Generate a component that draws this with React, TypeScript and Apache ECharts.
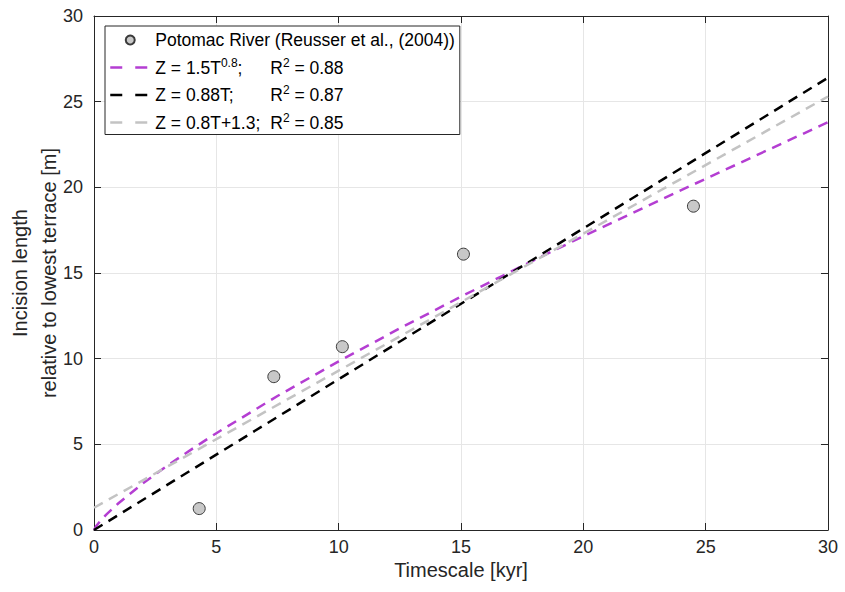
import React, { useEffect, useRef } from "react";
import * as echarts from "echarts";

const FONT = '"Liberation Sans", Arial, Helvetica, sans-serif';

// Observations: Potomac River (Reusser et al., 2004)
const obsName = "Potomac River (Reusser et al., (2004))";
const obsT = [4.3, 7.35, 10.15, 15.1, 24.5];
const obsZ = [1.25, 8.95, 10.7, 16.1, 18.9];

// Fit 1: power law (purple)
const powT = [0, 0.1, 0.25, 0.5, 1, 2, 3, 4, 5, 7.5, 10, 12.5, 15, 17.5, 20, 22.5, 25, 27.5, 30];
const powZ = [0, 0.25, 0.51, 0.9, 1.56, 2.72, 3.76, 4.72, 5.65, 7.82, 9.84, 11.77, 13.62, 15.41, 17.15, 18.83, 20.5, 22.15, 23.8];

// Fit 2: linear through origin (black)
const linT = [0, 30];
const linZ = [0, 26.4];

// Fit 3: linear with offset (gray)
const offT = [0, 30];
const offZ = [1.3, 25.3];

const fitNames = ["fitPow", "fitLin", "fitOff"];
const fitBase = ["Z = 1.5T", "Z = 0.88T;", "Z = 0.8T+1.3;"];
const fitSup = ["0.8", "", ""];
const fitTail = [";", "", ""];
const fitR2 = ["0.88", "0.87", "0.85"];
const fitColors = ["#b43ed2", "#000000", "#c3c3c3"];

const xTicks = { min: 0, max: 30, interval: 5 };
const yTicks = { min: 0, max: 30, interval: 5 };

const AX = "#262626";
const GRIDC = "#e6e6e6";

export default function App() {
  const ref = useRef<HTMLDivElement>(null);
  useEffect(() => {
    if (!ref.current) return;
    const chart = echarts.init(ref.current, undefined, { renderer: "svg" });

    const LEG = 17.5;
    const SUP = 12;
    const canvas = document.createElement("canvas");
    const ctx = canvas.getContext("2d")!;
    const measure = (t: string, size: number) => {
      ctx.font = `${size}px ${FONT}`;
      return ctx.measureText(t).width;
    };
    const colR = 115;

    const usedWidth = (i: number) =>
      measure(fitBase[i], LEG) +
      (fitSup[i] ? measure(fitSup[i], SUP) : 0) +
      (fitTail[i] ? measure(fitTail[i], LEG) : 0);

    const formatter = (name: string) => {
      const i = fitNames.indexOf(name);
      if (i < 0) return `{a|${name}}`;
      let s = `{a|${fitBase[i]}}`;
      if (fitSup[i]) s += `{s|${fitSup[i]}}`;
      if (fitTail[i]) s += `{a|${fitTail[i]}}`;
      s += `{p${i}|}`;
      s += `{a|R}{s|2}{a| = ${fitR2[i]}}`;
      return s;
    };

    const rich: any = {
      a: { fontFamily: FONT, fontSize: LEG, lineHeight: 22, color: "#000" },
      s: { fontFamily: FONT, fontSize: SUP, lineHeight: 12, verticalAlign: "top", color: "#000" },
    };
    fitNames.forEach((n, i) => {
      rich["p" + i] = { width: Math.max(2, colR - usedWidth(i)), fontSize: LEG, lineHeight: 22 };
    });

    const axisCommon = {
      type: "value" as const,
      axisLine: { show: true, onZero: false, lineStyle: { color: AX, width: 1 } },
      axisTick: { show: true, inside: true, length: 7, lineStyle: { color: AX, width: 1 } },
      minorTick: { show: false },
    };

    const fitData = [
      powT.map((t, k) => [t, powZ[k]]),
      linT.map((t, k) => [t, linZ[k]]),
      offT.map((t, k) => [t, offZ[k]]),
    ];

    chart.setOption({
      animation: false,
      backgroundColor: "#ffffff",
      grid: {
        left: 94,
        right: 17,
        top: 16,
        bottom: 62,
        containLabel: false,
        outerBoundsMode: "none",
      },
      xAxis: [
        {
          ...axisCommon,
          ...xTicks,
          position: "bottom",
          splitLine: { show: true, lineStyle: { color: GRIDC, width: 1 } },
          axisLabel: { color: AX, fontFamily: FONT, fontSize: 18, margin: 8 },
          name: "Timescale [kyr]",
          nameLocation: "middle",
          nameGap: 30,
          nameMoveOverlap: false,
          nameTextStyle: { color: AX, fontFamily: FONT, fontSize: 20 },
        },
        {
          ...axisCommon,
          ...xTicks,
          position: "top",
          splitLine: { show: false },
          axisLabel: { show: false },
        },
      ],
      yAxis: [
        {
          ...axisCommon,
          ...yTicks,
          position: "left",
          splitLine: { show: true, lineStyle: { color: GRIDC, width: 1 } },
          axisLabel: { color: AX, fontFamily: FONT, fontSize: 18, margin: 11 },
          name: "Incision length\nrelative to lowest terrace [m]",
          nameLocation: "middle",
          nameRotate: 90,
          nameGap: 31,
          nameMoveOverlap: false,
          nameTextStyle: { color: AX, fontFamily: FONT, fontSize: 20, lineHeight: 29 },
        },
        {
          ...axisCommon,
          ...yTicks,
          position: "right",
          splitLine: { show: false },
          axisLabel: { show: false },
        },
      ],
      legend: {
        orient: "vertical",
        left: 105,
        top: 26,
        padding: [3, 5, 1, 4],
        itemWidth: 40,
        itemHeight: 9,
        itemGap: 5.5,
        selectedMode: false,
        borderColor: AX,
        borderWidth: 1,
        borderRadius: 0,
        backgroundColor: "#ffffff",
        textStyle: { fontFamily: FONT, fontSize: LEG, color: "#000", lineHeight: 22, rich },
        formatter,
        data: [
          { name: obsName, icon: "circle" },
          ...fitNames.map((n) => ({
            name: n,
            lineStyle: { type: [12, 13], width: 2.5 },
            itemStyle: { opacity: 0 },
          })),
        ],
      },
      series: [
        {
          name: obsName,
          type: "scatter",
          data: obsT.map((t, k) => [t, obsZ[k]]),
          symbol: "circle",
          symbolSize: 12,
          itemStyle: { color: "#c8c8c8", borderColor: "#3a3a3a", borderWidth: 1, opacity: 1 },
          z: 5,
        },
        ...fitNames.map((n, i) => ({
          name: n,
          type: "line",
          data: fitData[i],
          showSymbol: false,
          symbol: "none",
          smooth: false,
          lineStyle: { color: fitColors[i], width: 2.5, type: [10, 7] },
          itemStyle: { color: fitColors[i] },
          z: 3,
        })),
      ],
    });

    return () => chart.dispose();
  }, []);

  return (
    <div
      ref={ref}
      style={{ position: "fixed", left: 0, top: 0, width: 845, height: 592, background: "#fff" }}
    />
  );
}
